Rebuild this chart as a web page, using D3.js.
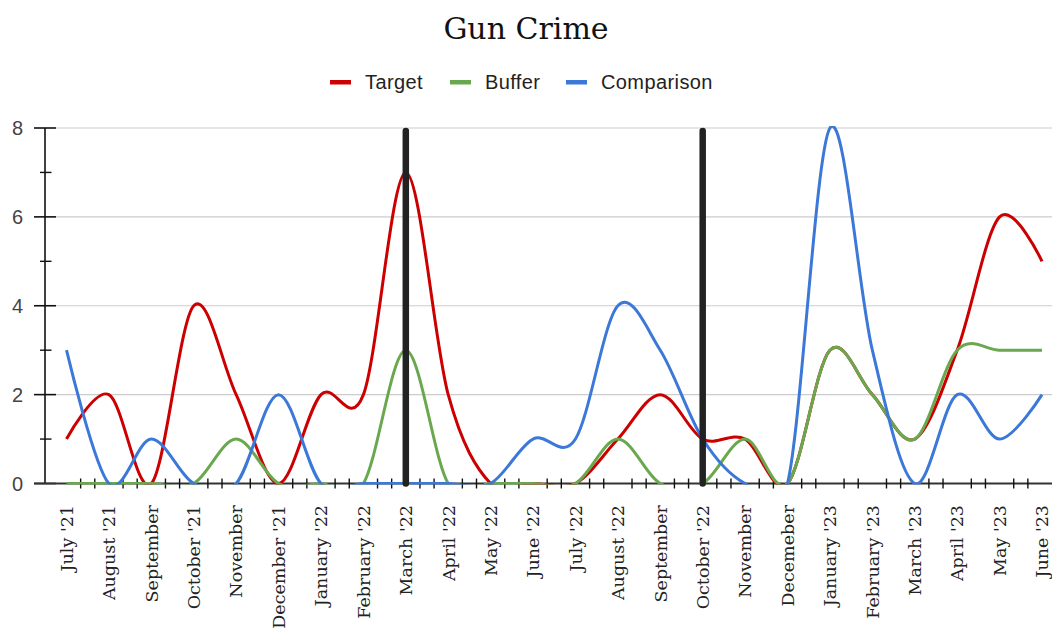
<!DOCTYPE html>
<html>
<head>
<meta charset="utf-8">
<script src="https://cdn.jsdelivr.net/npm/d3@7"></script>
<style>
  html, body { margin: 0; padding: 0; background: #fff; }
  svg { display: block; }
</style>
</head>
<body>
<svg id="chart" width="1052" height="629"></svg>
<script>
// Monthly counts, July 2021 – June 2023
const months = ["July '21", "August '21", "September", "October '21", "November", "December '21",
  "January '22", "February '22", "March '22", "April '22", "May '22", "June '22",
  "July '22", "August '22", "September", "October '22", "November", "Decemeber",
  "January '23", "February '23", "March '23", "April '23", "May '23", "June '23"];

const target     = [1, 2, 0, 4, 2, 0, 2, 2, 7, 2, 0, 0, 0, 1, 2, 1, 1, 0, 3, 2, 1, 3, 6, 5];
const buffer     = [0, 0, 0, 0, 1, 0, 0, 0, 3, 0, 0, 0, 0, 1, 0, 0, 1, 0, 3, 2, 1, 3, 3, 3];
const comparison = [3, 0, 1, 0, 0, 2, 0, 0, 0, 0, 0, 1, 1, 4, 3, 1, 0, 0, 8, 3, 0, 2, 1, 2];

const seriesNames  = ["Target", "Buffer", "Comparison"];
const seriesColors = ["#cc0000", "#6aa84f", "#3c78d8"];

const yMajorTicks = [0, 2, 4, 6, 8];
const yMinorTicks = [1, 3, 5, 7];

// Months marked with a vertical reference bar
const markerIndices = [8, 15];

const svg = d3.select("#chart");
const W = 1052, H = 629;
const axisX = 45, plotRight = 1052;

const x = d3.scalePoint().domain(d3.range(months.length)).range([66.5, 1042]);
const y = d3.scaleLinear().domain([0, 8]).range([483.5, 128]);

// Title
svg.append("text")
  .attr("x", W / 2).attr("y", 39)
  .attr("text-anchor", "middle")
  .style("font-family", "'DejaVu Serif', serif")
  .style("font-size", "30px")
  .attr("fill", "#111")
  .text("Gun Crime");

// Legend
const legendItems = [
  { name: seriesNames[0], color: seriesColors[0], x: 330 },
  { name: seriesNames[1], color: seriesColors[1], x: 450 },
  { name: seriesNames[2], color: seriesColors[2], x: 566 }
];
const lg = svg.append("g");
legendItems.forEach(d => {
  lg.append("rect").attr("x", d.x).attr("y", 80).attr("width", 21).attr("height", 4.5)
    .attr("fill", d.color);
  lg.append("text").attr("x", d.x + 35).attr("y", 89)
    .style("font-family", "'Liberation Sans', Arial, sans-serif")
    .style("font-size", "20px")
    .style("letter-spacing", "0.4px")
    .attr("fill", "#222")
    .text(d.name);
});

// Gridlines
svg.append("g").selectAll("line").data(yMajorTicks.filter(v => v > 0)).join("line")
  .attr("x1", 56).attr("x2", plotRight)
  .attr("y1", d => y(d)).attr("y2", d => y(d))
  .attr("stroke", "#cccccc").attr("stroke-width", 1.2);

// Y axis
const ya = svg.append("g").attr("stroke", "#111");
ya.append("line").attr("x1", axisX).attr("x2", axisX).attr("y1", y(8)).attr("y2", y(0))
  .attr("stroke-width", 1.6);
ya.selectAll(".maj").data(yMajorTicks).join("line").attr("class", "maj")
  .attr("x1", 34).attr("x2", 56).attr("y1", d => y(d)).attr("y2", d => y(d))
  .attr("stroke-width", 1.6);
ya.selectAll(".min").data(yMinorTicks).join("line").attr("class", "min")
  .attr("x1", 40).attr("x2", 51.5).attr("y1", d => y(d)).attr("y2", d => y(d))
  .attr("stroke-width", 1.4);
svg.append("g").selectAll("text").data(yMajorTicks).join("text")
  .attr("x", 23).attr("y", d => y(d)).attr("dy", "0.36em")
  .attr("text-anchor", "end")
  .style("font-family", "'Liberation Sans', Arial, sans-serif")
  .style("font-size", "20px")
  .attr("fill", "#444")
  .text(d => d);

// X axis with ticks at thirds between months
const step = x.step();
const xTickPos = [];
d3.range(months.length - 1).forEach(i => {
  xTickPos.push(x(i) + step / 3, x(i) + 2 * step / 3);
});
const xa = svg.append("g");
xa.append("line").attr("x1", 34).attr("x2", plotRight).attr("y1", y(0)).attr("y2", y(0))
  .attr("stroke", "#333").attr("stroke-width", 2);
xa.selectAll(".xt").data(xTickPos).join("line").attr("class", "xt")
  .attr("x1", d => d).attr("x2", d => d)
  .attr("y1", y(0) - 5).attr("y2", y(0) + 5)
  .attr("stroke", "#111").attr("stroke-width", 1.4);

svg.append("g").selectAll("text").data(months).join("text")
  .attr("transform", (d, i) => `translate(${x(i)},505) rotate(-90)`)
  .attr("dy", "0.36em")
  .attr("text-anchor", "end")
  .style("font-family", "'DejaVu Serif', serif")
  .style("font-size", "17.5px")
  .attr("fill", "#222")
  .text(d => d);

// Series lines, clipped to the plot area
svg.append("defs").append("clipPath").attr("id", "plotClip")
  .append("rect").attr("x", axisX).attr("y", y(8) - 2)
  .attr("width", plotRight - axisX).attr("height", y(0) - y(8) + 3);

const line = d3.line()
  .x((d, i) => x(i))
  .y(d => y(d))
  .curve(d3.curveCardinal.tension(0));

const lines = svg.append("g").attr("clip-path", "url(#plotClip)");
[target, buffer, comparison].forEach((vals, k) => {
  lines.append("path")
    .attr("d", line(vals))
    .attr("fill", "none")
    .attr("stroke", seriesColors[k])
    .attr("stroke-width", 3)
    .attr("stroke-linejoin", "round");
});

// Vertical reference bars
const defs = svg.select("defs");
defs.append("filter").attr("id", "soft")
  .append("feGaussianBlur").attr("stdDeviation", 0.6);
svg.append("g").attr("filter", "url(#soft)")
  .selectAll("line").data(markerIndices).join("line")
  .attr("x1", d => x(d)).attr("x2", d => x(d))
  .attr("y1", y(8) + 3).attr("y2", y(0))
  .attr("stroke", "#222").attr("stroke-width", 6.5)
  .attr("stroke-linecap", "round");
</script>
</body>
</html>
